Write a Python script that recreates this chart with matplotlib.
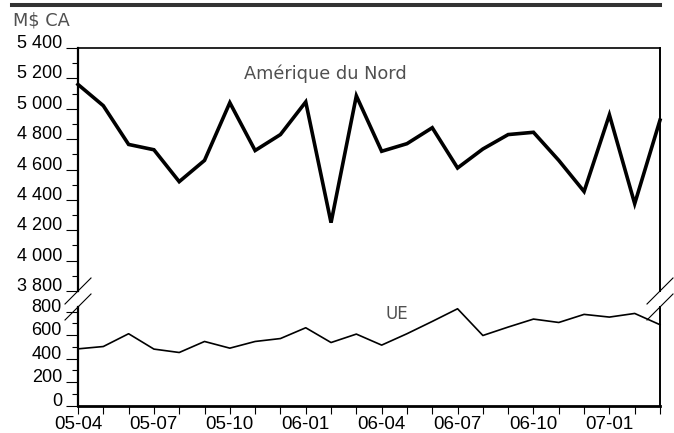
import matplotlib
matplotlib.use("Agg")
import matplotlib.pyplot as plt
from matplotlib.lines import Line2D
from matplotlib.ticker import MultipleLocator, FixedLocator

plt.rcParams['font.family'] = ['Liberation Sans', 'DejaVu Sans']

months = ["05-04", "05-05", "05-06", "05-07", "05-08", "05-09", "05-10", "05-11",
          "05-12", "06-01", "06-02", "06-03", "06-04", "06-05", "06-06", "06-07",
          "06-08", "06-09", "06-10", "06-11", "06-12", "07-01", "07-02", "07-03"]
amerique_nord = [5160, 5020, 4765, 4730, 4520, 4660, 5040, 4725, 4830, 5045, 4250, 5085,
                 4720, 4770, 4875, 4610, 4735, 4830, 4845, 4660, 4455, 4960, 4375, 4925]
ue = [483, 503, 612, 481, 452, 546, 489, 546, 571, 663, 537, 609,
      515, 612, 717, 825, 597, 669, 737, 708, 777, 754, 785, 689]

W, H = 674, 433
fig = plt.figure(figsize=(W / 100, H / 100), dpi=100)

def fx(px):
    return px / W

def fy(py):
    return 1 - py / H

left_px, right_px = 78, 660
ax_top = fig.add_axes([fx(left_px), fy(291), fx(right_px - left_px), (291 - 48) / H])
ax_bot = fig.add_axes([fx(left_px), fy(405.5), fx(right_px - left_px), (405.5 - 307) / H])

x = list(range(len(months)))
ax_top.plot(x, amerique_nord, color='black', lw=2.6, solid_joinstyle='miter', clip_on=False)
ax_bot.plot(x, ue, color='black', lw=1.2, clip_on=False)

for ax in (ax_top, ax_bot):
    ax.set_xlim(0, len(months) - 1)
    for s in ax.spines.values():
        s.set_color('black')
    ax.spines['left'].set_linewidth(1.6)
    ax.spines['right'].set_linewidth(1.4)
    ax.tick_params(axis='y', which='major', length=8.6, width=0.8, pad=3,
                   labelsize=13, colors='black')
    ax.tick_params(axis='y', which='minor', length=4.3, width=0.8)

ax_top.set_ylim(3800, 5400)
ax_top.spines['bottom'].set_visible(False)
ax_top.spines['top'].set_linewidth(1.2)
top_ticks = list(range(3800, 5401, 200))
ax_top.yaxis.set_major_locator(FixedLocator(top_ticks))
ax_top.set_yticklabels([f"{v // 1000} {v % 1000:03d}" for v in top_ticks])
ax_top.yaxis.set_minor_locator(MultipleLocator(100))
ax_top.tick_params(axis='x', which='both', bottom=False, labelbottom=False)

ax_bot.set_ylim(0, 840)
ax_bot.spines['top'].set_visible(False)
ax_bot.spines['bottom'].set_linewidth(2.0)
bot_ticks = list(range(0, 801, 200))
ax_bot.yaxis.set_major_locator(FixedLocator(bot_ticks))
ax_bot.set_yticklabels([str(v) for v in bot_ticks])
ax_bot.yaxis.set_minor_locator(FixedLocator(list(range(100, 801, 200))))
ax_bot.set_xticks(x)
ax_bot.set_xticklabels([m if i % 3 == 0 else "" for i, m in enumerate(months)])
ax_bot.tick_params(axis='x', length=5.8, width=0.8, pad=2, labelsize=13.5, colors='black')

for ax in (ax_top, ax_bot):
    for t in ax.get_yticklabels():
        t.set_verticalalignment('baseline')

label_font = dict(family=['DejaVu Sans'], color='#505050')
ax_top.text(9.76, 5229, "Amérique du Nord", ha='center', va='center', fontsize=12.8, **label_font)
ax_bot.text(12.59, 783, "UE", ha='center', va='center', fontsize=12, **label_font)
fig.text(fx(13), fy(26), "M$ CA", ha='left', va='baseline', fontsize=12.8, **label_font)

# top rule
fig.add_artist(Line2D([fx(12), fx(660)], [fy(5.3), fy(5.3)], color='#333333', lw=2.9,
                      transform=fig.transFigure))

# break marks
for cx in (left_px, right_px):
    for cy in (291, 307):
        fig.add_artist(Line2D([fx(cx - 13), fx(cx + 13)], [fy(cy + 13), fy(cy - 13)],
                              color='black', lw=0.8, transform=fig.transFigure))

fig.savefig("out.png", dpi=100)
